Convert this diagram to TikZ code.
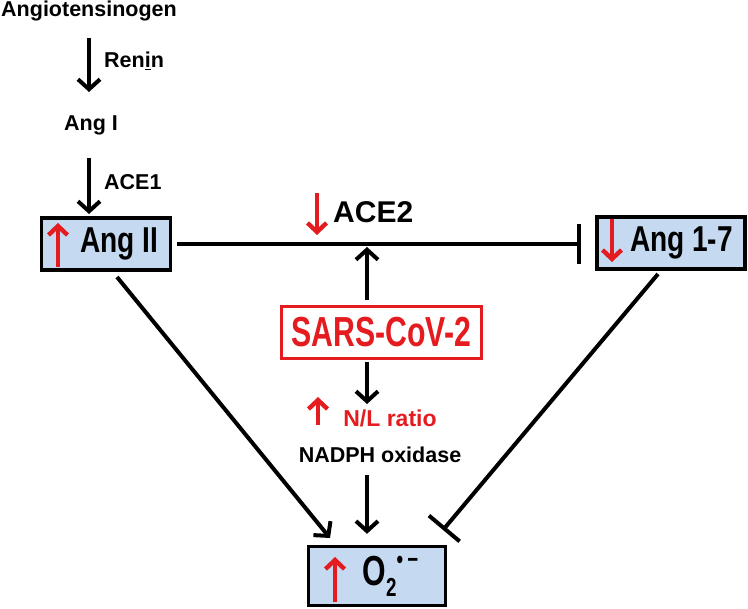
\documentclass[tikz,border=0pt]{standalone}
\usepackage{fontspec}
\setmainfont{Liberation Sans}
\newfontfamily\narrowfont{Liberation Sans}[FakeStretch=0.78]
\newfontfamily\slimfont{Liberation Sans}[FakeStretch=0.72]
\usetikzlibrary{arrows.meta}
\definecolor{boxblue}{RGB}{197,217,241}
\definecolor{virusred}{RGB}{228,28,32}

\begin{document}
\begin{tikzpicture}[x=1pt, y=-1pt,
        word/.style={font=\bfseries\fontsize{21.5}{24}\selectfont, inner sep=0pt},
        peptide/.style={draw=black, line width=3.4pt, fill=boxblue, inner sep=0pt,
                font=\narrowfont\bfseries\fontsize{36}{38}\selectfont},
        conv/.style={-{Straight Barb[length=10pt,width=22pt]}, line width=4pt},
        inhibit/.style={-{Bar[width=40pt]}, line width=4pt},
        rise/.style={-{Straight Barb[length=9pt,width=19pt]}, line width=4.4pt, virusred}
    ]
    \useasboundingbox (0,0) rectangle (748,609);

    % classical cascade
    \node[word] (angio) at (89,11) {Angiotensinogen};
    \node[word] (angI) at (91,125) {Ang I};
    \node[word, anchor=west] (renin) at (104,61) {Ren\underline{i}n};
    \node[word, anchor=west] (ace1) at (104,182) {ACE1};

    \node[peptide, minimum width=129pt, minimum height=52pt] (angII) at (106,244) {\hspace*{26pt}Ang II};
    \node[peptide, minimum width=148pt, minimum height=52pt] (ang17) at (671,243) {\hspace*{21pt}Ang 1-7};
    \node[peptide, minimum width=137pt, minimum height=59pt] (o2) at (377,576)
        {\slimfont\fontsize{42}{44}\selectfont\hspace*{27pt}O\raisebox{-0.25em}{\fontsize{26}{28}\selectfont 2}\raisebox{0.42em}{\fontsize{26}{28}\selectfont\textbullet\,−}};

    \node[draw=virusred, line width=3.4pt, fill=white, text=virusred, inner sep=0pt,
        minimum width=200pt, minimum height=52pt,
        font=\slimfont\bfseries\fontsize{42}{44}\selectfont] (sars) at (381.5,332.5) {SARS-CoV-2};

    \node[word, anchor=west, font=\bfseries\fontsize{30}{32}\selectfont] (ace2) at (333,212) {ACE2};
    \node[word, text=virusred, font=\bfseries\fontsize{23}{26}\selectfont] (nl) at (390,418) {N/L ratio};
    \node[word] (nadph) at (380,455) {NADPH oxidase};

    \coordinate (hit) at (367,243);
    \coordinate (nltop) at (367,404);
    \coordinate (o2left) at (330,538);
    \coordinate (o2right) at (443,530);

    \draw[conv] (89,38) -- (89,92);
    \draw[conv] (89,158) -- (89,214);

    \draw[inhibit, shorten <=5pt, shorten >=14pt] (angII.east) -- (ang17.west |- angII.east);
    \draw[conv, shorten <=5pt, shorten >=4pt] (sars.north -| hit) -- (hit);
    \draw[conv, shorten <=2pt] (sars.south -| hit) -- (nltop);
    \draw[conv, shorten <=12pt, shorten >=11pt] (nadph.south -| hit) -- (o2.north -| hit);
    \draw[conv] (117,277) -- (o2left);
    \draw[inhibit] (658,274) -- (o2right);

    % red up and down marks
    \draw[rise] (58,267) -- (58,223);
    \draw[rise] (612,219) -- (612,262);
    \draw[rise] (317,193) -- (317,235);
    \draw[rise] (318,425) -- (318,397);
    \draw[rise] (335,602) -- (335,557);
\end{tikzpicture}
\end{document}
